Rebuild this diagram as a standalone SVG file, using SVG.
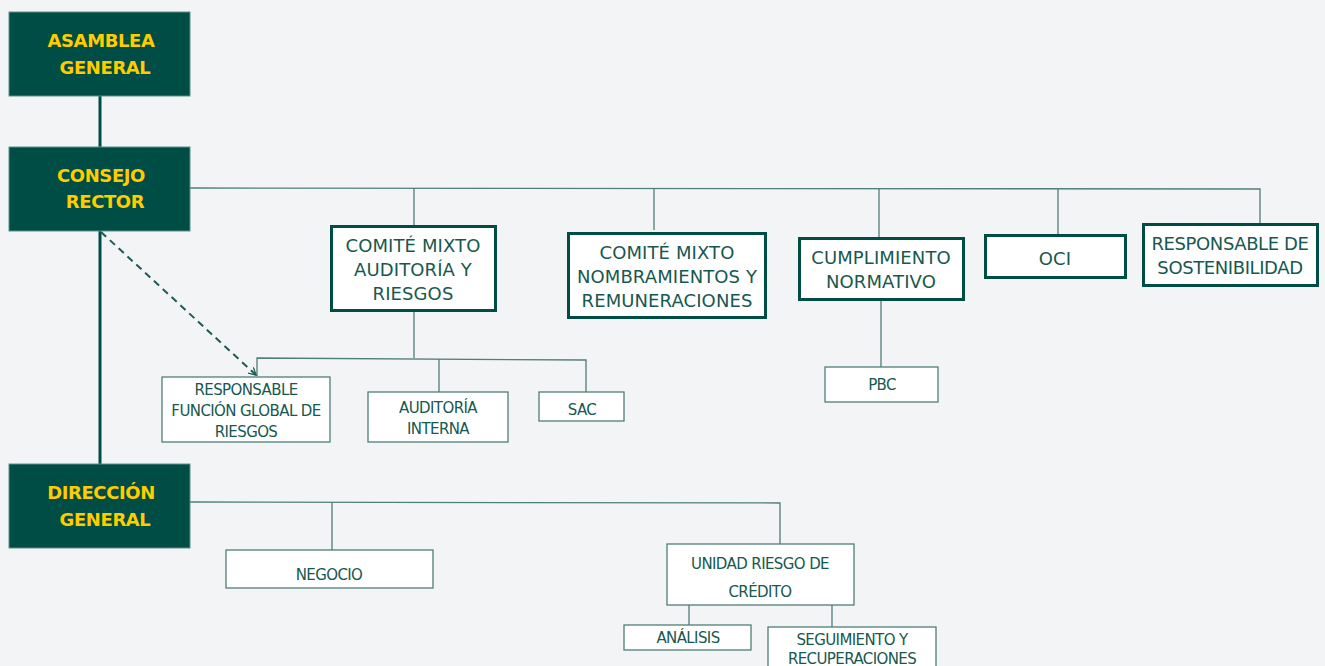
<svg xmlns="http://www.w3.org/2000/svg" width="1325" height="666" viewBox="0 0 1325 666">
<defs>
<style>
.bg{fill:#f3f4f6}
.dark{fill:#004d45;stroke:#5f8f8a;stroke-width:1}
.dt{font-family:"DejaVu Sans","Liberation Sans",sans-serif;font-weight:bold;font-size:18px;fill:#ffcc00;text-anchor:middle;letter-spacing:-0.4px}
.box{fill:#ffffff;stroke:#004d45;stroke-width:3}
.sbox{fill:#ffffff;stroke:#4f7f79;stroke-width:1.3}
.t{font-family:"DejaVu Sans","Liberation Sans",sans-serif;font-size:18px;fill:#17584f;text-anchor:middle;letter-spacing:0.1px}
.tn{letter-spacing:-0.4px}
.st{font-family:"DejaVu Sans","Liberation Sans",sans-serif;font-size:15px;fill:#17584f;text-anchor:middle;letter-spacing:-0.6px}
.thick{stroke:#004d45;stroke-width:3;fill:none}
.thin{stroke:#4f7f79;stroke-width:1.3;fill:none}
</style>
<marker id="arr" viewBox="0 0 10 10" refX="9" refY="5" markerWidth="8" markerHeight="8" orient="auto" markerUnits="userSpaceOnUse">
<path d="M0,0 L9,5 L0,10" fill="none" stroke="#1d5a52" stroke-width="1.6"/>
</marker>
</defs>
<rect class="bg" x="0" y="0" width="1325" height="666"/>
<g id="connectors">
<line class="thick" x1="100" y1="96" x2="100" y2="147"/>
<line class="thick" x1="100" y1="231" x2="100" y2="464"/>
<polyline class="thin" points="190,188 1260,189 1260,223"/>
<line class="thin" x1="414" y1="188" x2="414" y2="225"/>
<line class="thin" x1="654" y1="188" x2="654" y2="230"/>
<line class="thin" x1="879" y1="189" x2="879" y2="237"/>
<line class="thin" x1="1058" y1="189" x2="1058" y2="234"/>
<line class="thin" x1="414" y1="311" x2="414" y2="358"/>
<polyline class="thin" points="257,376 257,358 586,360 586,392"/>
<line class="thin" x1="439" y1="359" x2="439" y2="392"/>
<line x1="101" y1="232" x2="256" y2="375" stroke="#1d5a52" stroke-width="2" stroke-dasharray="7,5" marker-end="url(#arr)"/>
<line class="thin" x1="881" y1="299" x2="881" y2="367"/>
<polyline class="thin" points="190,502 780,503 780,544"/>
<line class="thin" x1="332" y1="502" x2="332" y2="550"/>
<line class="thin" x1="689" y1="605" x2="689" y2="625"/>
<line class="thin" x1="832" y1="605" x2="832" y2="627"/>
</g>
<g id="asamblea">
<rect class="dark" x="9" y="12" width="181" height="84"/>
<text class="dt" x="101" y="47">ASAMBLEA</text>
<text class="dt" x="105" y="74">GENERAL</text>
</g>
<g id="consejo">
<rect class="dark" x="9" y="147" width="181" height="84"/>
<text class="dt" x="101" y="182">CONSEJO</text>
<text class="dt" x="105" y="208">RECTOR</text>
</g>
<g id="direccion">
<rect class="dark" x="9" y="464" width="181" height="84"/>
<text class="dt" x="101" y="499">DIRECCIÓN</text>
<text class="dt" x="105" y="526">GENERAL</text>
</g>
<g id="comite-auditoria">
<rect class="box" x="331.5" y="226.5" width="164" height="84"/>
<text class="t" x="413" y="252">COMITÉ MIXTO</text>
<text class="t" x="413" y="276">AUDITORÍA Y</text>
<text class="t" x="413" y="300">RIESGOS</text>
</g>
<g id="comite-nombramientos">
<rect class="box" x="568.5" y="233.5" width="197" height="84"/>
<text class="t" x="667" y="259">COMITÉ MIXTO</text>
<text class="t" x="667" y="283">NOMBRAMIENTOS Y</text>
<text class="t" x="667" y="307">REMUNERACIONES</text>
</g>
<g id="cumplimiento">
<rect class="box" x="799.5" y="238.5" width="164" height="61"/>
<text class="t" x="881" y="264">CUMPLIMIENTO</text>
<text class="t" x="881" y="288">NORMATIVO</text>
</g>
<g id="oci">
<rect class="box" x="985.5" y="235.5" width="140" height="42"/>
<text class="t" x="1055" y="265">OCI</text>
</g>
<g id="sostenibilidad">
<rect class="box" x="1143.5" y="224.5" width="174" height="61"/>
<text class="t tn" x="1230" y="250">RESPONSABLE DE</text>
<text class="t tn" x="1230" y="274">SOSTENIBILIDAD</text>
</g>
<g id="funcion-global">
<rect class="sbox" x="162" y="377" width="168" height="65"/>
<text class="st" x="246" y="395">RESPONSABLE</text>
<text class="st" x="246" y="416">FUNCIÓN GLOBAL DE</text>
<text class="st" x="246" y="437">RIESGOS</text>
</g>
<g id="auditoria-interna">
<rect class="sbox" x="368" y="392" width="140" height="50"/>
<text class="st" x="438" y="413">AUDITORÍA</text>
<text class="st" x="438" y="434">INTERNA</text>
</g>
<g id="sac">
<rect class="sbox" x="539" y="392" width="85" height="29"/>
<text class="st" x="582" y="415">SAC</text>
</g>
<g id="pbc">
<rect class="sbox" x="825" y="367" width="113" height="35"/>
<text class="st" x="882" y="390">PBC</text>
</g>
<g id="negocio">
<rect class="sbox" x="226" y="550" width="207" height="38"/>
<text class="st" x="329" y="580">NEGOCIO</text>
</g>
<g id="unidad-riesgo">
<rect class="sbox" x="667" y="544" width="187" height="61"/>
<text class="st" x="760" y="569">UNIDAD RIESGO DE</text>
<text class="st" x="760" y="597">CRÉDITO</text>
</g>
<g id="analisis">
<rect class="sbox" x="624" y="625" width="127" height="25"/>
<text class="st" x="688" y="643">ANÁLISIS</text>
</g>
<g id="seguimiento">
<rect class="sbox" x="768" y="627" width="168" height="45"/>
<text class="st" x="852" y="645">SEGUIMIENTO Y</text>
<text class="st" x="852" y="664">RECUPERACIONES</text>
</g>
</svg>
